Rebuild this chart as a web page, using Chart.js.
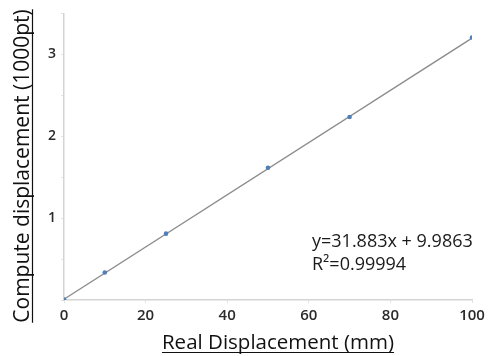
<!DOCTYPE html>
<html>
<head>
<meta charset="utf-8">
<script src="https://cdn.jsdelivr.net/npm/chart.js@4.4.1/dist/chart.umd.min.js"></script>
<style>
  html, body { margin: 0; padding: 0; background: #fff; }
  #wrap { width: 496px; height: 356px; }
</style>
</head>
<body>
<div id="wrap"><canvas id="dispChart" width="496" height="356"></canvas></div>
<script>
// measured points (real mm vs computed pt)
const realMm = [0, 10, 25, 50, 70, 100];
const computedPt = [5, 335, 810, 1615, 2235, 3205];

// linear trend line end points
const trendX = [0, 100];
const trendY = [10, 3198];

const xTicks = [0, 20, 40, 60, 80, 100];
const yLabels = { 1000: "1", 2000: "2", 3000: "3" };

const fitText = ["y=31.883x + 9.9863", "R²=0.99994"];
const xTitle = "Real Displacement (mm)";
const yTitle = "Compute displacement (1000pt)";

const fontFam = "'Open Sans', 'Liberation Sans', sans-serif";

const pointData = realMm.map((x, i) => ({ x: x, y: computedPt[i] }));
const trendData = trendX.map((x, i) => ({ x: x, y: trendY[i] }));

// draws the underlined axis titles and the fit equation
const textPlugin = {
  id: "textPlugin",
  afterDraw(chart) {
    const c = chart.ctx;
    c.save();
    c.fillStyle = "#111";
    c.strokeStyle = "#111";
    c.lineWidth = 1.2;

    // x title
    c.font = "20.5px " + fontFam;
    c.textAlign = "center";
    c.textBaseline = "alphabetic";
    const xw = c.measureText(xTitle).width;
    c.fillText(xTitle, 278, 349);
    c.beginPath();
    c.moveTo(278 - xw / 2, 352.5);
    c.lineTo(278 + xw / 2, 352.5);
    c.stroke();

    // y title
    c.save();
    c.translate(29, 166);
    c.rotate(-Math.PI / 2);
    c.font = "21px " + fontFam;
    const yw = c.measureText(yTitle).width;
    c.fillText(yTitle, 0, 0);
    c.beginPath();
    c.moveTo(-yw / 2, 3.5);
    c.lineTo(yw / 2, 3.5);
    c.stroke();
    c.restore();

    // fit equation
    c.font = "18px " + fontFam;
    c.textAlign = "left";
    c.textBaseline = "middle";
    c.fillStyle = "#1a1a1a";
    c.fillText(fitText[0], 312, 242);
    c.fillText(fitText[1], 312, 265);
    c.restore();
  }
};

const ctx = document.getElementById("dispChart").getContext("2d");

let dispChart = new Chart(ctx, {
  type: "scatter",
  data: {
    datasets: [{
      label: "trend",
      data: trendData,
      showLine: true,
      borderColor: "#8c8c8c",
      borderWidth: 1.3,
      pointRadius: 0,
      order: 2
    }, {
      label: "points",
      data: pointData,
      backgroundColor: "#4f7fba",
      borderColor: "#4f7fba",
      pointRadius: 2.3,
      borderWidth: 0,
      order: 1
    }]
  },
  options: {
    responsive: false,
    animation: false,
    layout: {
      padding: { left: 0, top: 13, right: 24, bottom: 0 }
    },
    scales: {
      x: {
        type: "linear",
        min: 0,
        max: 100,
        afterFit: scale => { scale.height = 56; },
        afterBuildTicks: scale => { scale.ticks = xTicks.map(v => ({ value: v })); },
        ticks: {
          padding: 4,
          color: "#2a2a2a",
          font: { family: fontFam, size: 15, weight: "600" },
          maxRotation: 0
        },
        grid: {
          drawOnChartArea: false,
          tickLength: 3,
          color: "#e2e2e2"
        },
        border: { display: true, color: "#d4d4d4", width: 1.5 }
      },
      y: {
        type: "linear",
        min: 0,
        max: 3500,
        afterFit: scale => { scale.width = 64; },
        ticks: {
          stepSize: 500,
          padding: 5,
          color: "#2a2a2a",
          font: { family: fontFam, size: 14, weight: "600" },
          callback: value => yLabels[value] || ""
        },
        grid: {
          drawOnChartArea: false,
          tickLength: 3,
          color: "#e2e2e2"
        },
        border: { display: true, color: "#d4d4d4", width: 1.5 }
      }
    },
    plugins: {
      legend: { display: false },
      tooltip: { enabled: false }
    }
  },
  plugins: [textPlugin]
});
</script>
</body>
</html>
